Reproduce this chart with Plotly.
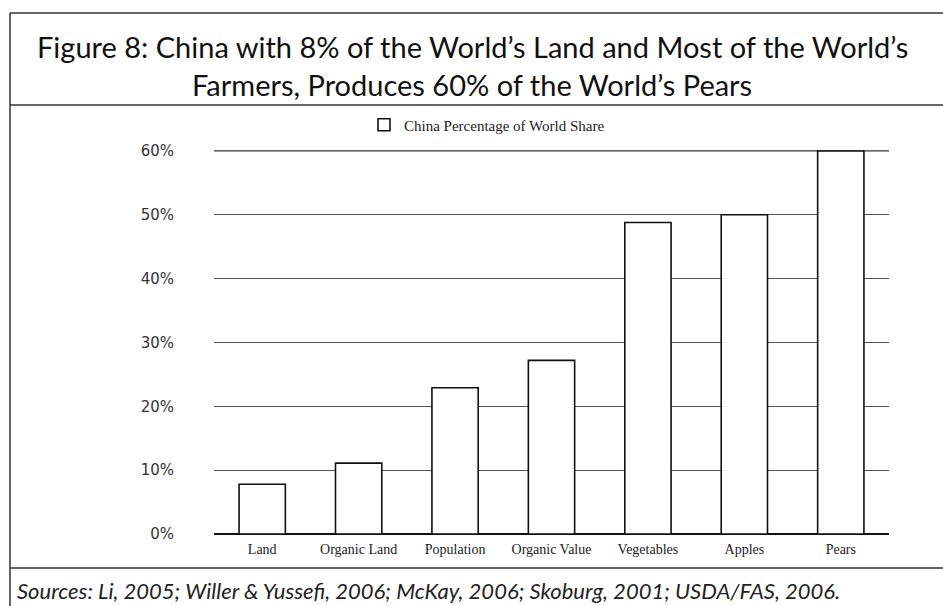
import plotly.graph_objects as go

# China's share of the world total, by measure (%)
categories = ["Land", "Organic Land", "Population", "Organic Value",
              "Vegetables", "Apples", "Pears"]
china_share = [7.8, 11.1, 22.9, 27.2, 48.8, 50.0, 60.0]
y_ticks = [0, 10, 20, 30, 40, 50, 60]
y_tick_labels = ["0%", "10%", "20%", "30%", "40%", "50%", "60%"]

title_lines = ["Figure 8: China with 8% of the World\u2019s Land and Most of the World\u2019s",
               "Farmers, Produces 60% of the World\u2019s Pears"]
source_note = "Sources: Li, 2005; Willer & Yussefi, 2006; McKay, 2006; Skoburg, 2001; USDA/FAS, 2006."

W, H = 943, 606
L, R, T, B = 214, 54, 150, 72

fig = go.Figure()
fig.add_trace(go.Bar(
    x=categories,
    y=china_share,
    name="China Percentage of World Share",
    marker=dict(color="white", line=dict(color="#111", width=1.6)),
))


def paper_xy(px, py):
    """Pixel position on the page -> paper coordinates of the plot area."""
    return ((px - L) / (W - L - R), (H - B - py) / (H - T - B))


lx, ly = paper_xy(487, 125)
fig.update_layout(
    width=W, height=H,
    margin=dict(l=L, r=R, t=T, b=B, autoexpand=False),
    paper_bgcolor="white",
    plot_bgcolor="white",
    bargap=0.52,
    showlegend=True,
    legend=dict(
        orientation="h",
        x=lx, xanchor="center",
        y=ly, yanchor="middle",
        font=dict(family="Liberation Serif", size=15, color="#222"),
        bgcolor="rgba(0,0,0,0)",
    ),
    xaxis=dict(
        showgrid=False,
        showline=False,
        ticks="",
        tickfont=dict(family="Liberation Serif", size=14, color="#222"),
        ticklabelstandoff=5,
    ),
    yaxis=dict(
        range=[0, 60.15],
        tickvals=y_ticks,
        ticktext=y_tick_labels,
        showgrid=True,
        gridcolor="#555",
        gridwidth=1,
        zeroline=True,
        zerolinecolor="#111",
        zerolinewidth=2,
        showline=False,
        ticks="",
        ticklabelstandoff=39,
        tickfont=dict(family="DejaVu Sans", size=15, color="#333"),
    ),
)

# Top gridline (at the edge of the axis range) drawn explicitly
fig.add_shape(type="line", xref="paper", yref="y", x0=0, x1=1,
              y0=y_ticks[-1], y1=y_ticks[-1], layer="below",
              line=dict(color="#333", width=1.3))

# Title block
for i, line in enumerate(title_lines):
    x, y = paper_xy(472, 46 + 38 * i)
    fig.add_annotation(text=line, x=x, y=y, xref="paper", yref="paper",
                       xanchor="center", yanchor="middle", showarrow=False,
                       font=dict(family="Lato", size=29, color="#111"))

# Source note
x, y = paper_xy(15, 590)
fig.add_annotation(text="<i>" + source_note.replace("&", "&amp;") + "</i>",
                   x=x, y=y, xref="paper", yref="paper",
                   xanchor="left", yanchor="middle", showarrow=False,
                   font=dict(family="Lato", size=22, color="#222"))


# Frame rules around the figure
def hline(py, x0, x1, w=1.5):
    a, yy = paper_xy(x0, py)
    b, _ = paper_xy(x1, py)
    fig.add_shape(type="line", xref="paper", yref="paper", x0=a, x1=b, y0=yy, y1=yy,
                  line=dict(color="#333", width=w))


hline(13, 10, W)
hline(105, 10, W)
hline(568, 10, W)
a, y0 = paper_xy(10, 13)
_, y1 = paper_xy(10, H)
fig.add_shape(type="line", xref="paper", yref="paper", x0=a, x1=a, y0=y0, y1=y1,
              line=dict(color="#333", width=1.5))

fig.write_html("out.html")
